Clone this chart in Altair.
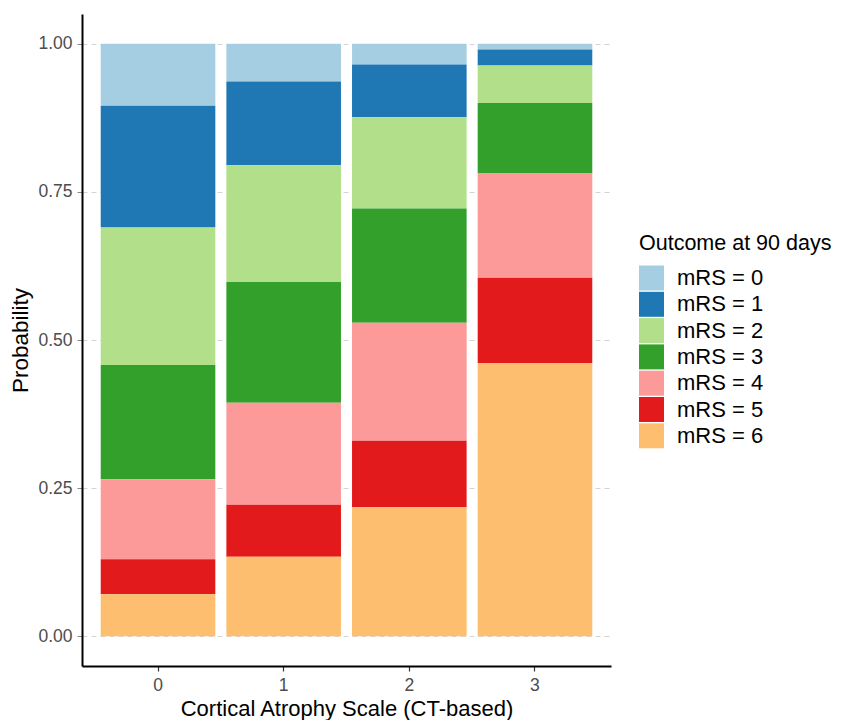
import altair as alt
import pandas as pd

# Data
scale_levels = ["0", "1", "2", "3"]
outcome_labels = ["mRS = 0", "mRS = 1", "mRS = 2", "mRS = 3", "mRS = 4", "mRS = 5", "mRS = 6"]
mrs0 = [0.105, 0.064, 0.035, 0.010]
mrs1 = [0.205, 0.141, 0.089, 0.027]
mrs2 = [0.232, 0.197, 0.154, 0.063]
mrs3 = [0.193, 0.204, 0.193, 0.119]
mrs4 = [0.135, 0.172, 0.199, 0.176]
mrs5 = [0.059, 0.0875, 0.112, 0.144]
mrs6 = [0.071, 0.1345, 0.218, 0.461]
colors = ["#A6CEE3", "#1F78B4", "#B2DF8A", "#33A02C", "#FB9A99", "#E31A1C", "#FDBF6F"]
y_ticks = [0, 0.25, 0.5, 0.75, 1.0]

series = [mrs0, mrs1, mrs2, mrs3, mrs4, mrs5, mrs6]
rows = []
for k, (lab, vals) in enumerate(zip(outcome_labels, series)):
    for lvl, v in zip(scale_levels, vals):
        rows.append({"scale": lvl, "outcome": lab, "rank": k, "prob": v})
df = pd.DataFrame(rows)

FONT = "Liberation Sans"

chart = alt.Chart(df).mark_bar().encode(
    x=alt.X("scale:N", sort=scale_levels,
            scale=alt.Scale(paddingInner=0.088, paddingOuter=0.149),
            axis=alt.Axis(title="Cortical Atrophy Scale (CT-based)", labelAngle=0,
                          labelFontSize=17.5, labelColor="#4D4D4D", labelPadding=5,
                          tickSize=5, tickColor="#333333", tickWidth=1.2,
                          domainColor="#000000", domainWidth=2,
                          titleFontSize=22, titleColor="#000000", titleFontWeight="normal",
                          titleY=49, titleBaseline="alphabetic", grid=False)),
    y=alt.Y("prob:Q", stack="zero",
            scale=alt.Scale(domain=[-0.05, 1.05], nice=False, zero=False),
            axis=alt.Axis(title="Probability", values=y_ticks, format=".2f",
                          labelFontSize=17.5, labelColor="#4D4D4D", labelPadding=5,
                          tickSize=5, tickColor="#888888", tickWidth=1,
                          domainColor="#000000", domainWidth=2,
                          titleFontSize=22.5, titleColor="#000000", titleFontWeight="normal",
                          titleX=-55, titleBaseline="alphabetic",
                          grid=True, gridColor="#D4D4D4", gridDash=[5, 4], gridWidth=1)),
    color=alt.Color("outcome:N", sort=outcome_labels,
                    scale=alt.Scale(domain=outcome_labels, range=colors),
                    legend=alt.Legend(title="Outcome at 90 days", orient="none",
                                      legendX=557, legendY=219,
                                      titleFontSize=21.5, titleColor="#000000",
                                      titleFontWeight="normal", titlePadding=11,
                                      titleLimit=400, labelLimit=300,
                                      labelFontSize=22, labelColor="#000000",
                                      labelOffset=13, symbolType="square",
                                      symbolSize=625, symbolStrokeWidth=0,
                                      rowPadding=1.3, padding=0)),
    order=alt.Order("rank:Q", sort="descending"),
).properties(
    width=529, height=652,
    padding={"left": 74, "top": 6, "right": 224, "bottom": 60},
    autosize=alt.AutoSizeParams(type="none"),
).configure(font=FONT, background="white").configure_view(stroke=None)

chart.save("out.html", embed_options={"renderer": "svg", "actions": False})
